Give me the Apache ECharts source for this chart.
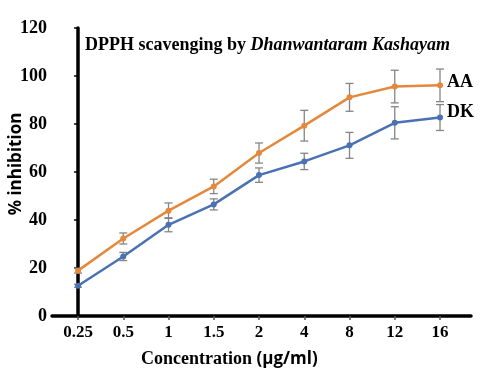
<!DOCTYPE html>
<html><head><meta charset="utf-8">
<script src="https://cdn.jsdelivr.net/npm/echarts@6/dist/echarts.min.js"></script>
<style>html,body{margin:0;padding:0;background:#fff}#c{width:482px;height:379px}</style>
</head><body><div id="c"></div>
<script>
const categories = ['0.25','0.5','1','1.5','2','4','8','12','16'];
const aaValues = [18.9, 32.3, 43.9, 54.0, 67.9, 79.3, 91.1, 95.6, 96.1];
const aaErrors = [1.0, 2.3, 3.2, 3.0, 4.2, 6.4, 5.8, 6.8, 6.8];
const dkValues = [12.6, 24.8, 38.0, 46.5, 58.7, 64.4, 71.1, 80.5, 82.7];
const dkErrors = [0.6, 1.7, 2.9, 2.3, 3.0, 3.4, 5.4, 6.7, 5.4];
const yTicks = [0, 20, 40, 60, 80, 100, 120];

const chart = echarts.init(document.getElementById('c'));
const serif = '"Liberation Serif","Times New Roman",serif';
const sans = '"Open Sans","Liberation Sans",sans-serif';
const orange = '#E4883C';
const blue = '#4A72B2';
const idx = categories.map((c, i) => i);

function errSeries(vals, errs) {
  return {
    type: 'custom',
    z: 1,
    data: vals.map((v, i) => [i, v - errs[i], v + errs[i]]),
    renderItem: function (params, api) {
      const lo = api.coord([api.value(0), api.value(1)]);
      const hi = api.coord([api.value(0), api.value(2)]);
      const w = 4;
      const st = { stroke: '#858585', lineWidth: 1.3 };
      return { type: 'group', children: [
        { type: 'line', shape: { x1: lo[0], y1: lo[1], x2: hi[0], y2: hi[1] }, style: st },
        { type: 'line', shape: { x1: lo[0]-w, y1: lo[1], x2: lo[0]+w, y2: lo[1] }, style: st },
        { type: 'line', shape: { x1: hi[0]-w, y1: hi[1], x2: hi[0]+w, y2: hi[1] }, style: st }
      ]};
    }
  };
}

chart.setOption({
  animation: false,
  backgroundColor: '#fff',
  title: {
    text: '{n|DPPH scavenging by }{i|Dhanwantaram Kashayam}',
    left: 80, top: 31,
    textStyle: { rich: {
      n: { fontFamily: serif, fontWeight: 'bold', fontSize: 18, color: '#000' },
      i: { fontFamily: serif, fontWeight: 'bold', fontStyle: 'italic', fontSize: 18, color: '#000' }
    }}
  },
  grid: { left: 52, right: 11, top: 28, bottom: 63, outerBoundsMode: 'none', containLabel: false },
  xAxis: {
    type: 'value',
    min: -0.575, max: 8.685,
    splitLine: { show: false },
    axisLine: { lineStyle: { color: '#000', width: 3.5 } },
    axisTick: { customValues: idx, length: 4, lineStyle: { color: '#555', width: 1.5 } },
    axisLabel: { customValues: idx, formatter: v => categories[Math.round(v)],
      fontFamily: serif, fontWeight: 'bold', fontSize: 17, color: '#000', margin: 8 }
  },
  yAxis: {
    type: 'value', min: 0, max: 120, interval: 20,
    splitLine: { show: false },
    axisLine: { show: true, lineStyle: { color: '#000', width: 3.5 } },
    axisTick: { show: true, length: 4, lineStyle: { color: '#000', width: 1.5 } },
    axisLabel: { fontFamily: serif, fontWeight: 'bold', fontSize: 18, color: '#000', margin: 5,
      formatter: v => yTicks.includes(v) ? String(v) : '' }
  },
  graphic: [{
    type: 'text', left: 141, top: 350,
    style: { text: '{a|Concentration }{b|(μg/ml)}', rich: {
      a: { fontFamily: serif, fontWeight: 'bold', fontSize: 18, fill: '#000' },
      b: { fontFamily: sans, fontWeight: 'bold', fontSize: 17, fill: '#000' }
    }}
  }, {
    type: 'text', x: 16, y: 164, rotation: Math.PI / 2,
    style: { text: '% inhibition', fontFamily: sans, fontWeight: 'bold', fontSize: 17, fill: '#000',
      align: 'center', verticalAlign: 'middle' }
  }],
  series: [
    errSeries(aaValues, aaErrors),
    errSeries(dkValues, dkErrors),
    { type: 'line', data: aaValues.map((v, i) => [i, v]), z: 3, symbol: 'circle', symbolSize: 6,
      lineStyle: { color: orange, width: 2.5 }, itemStyle: { color: orange },
      endLabel: { show: true, formatter: 'AA', distance: 7, fontFamily: serif, fontWeight: 'bold', fontSize: 18, color: '#000', offset: [0, -3] } },
    { type: 'line', data: dkValues.map((v, i) => [i, v]), z: 3, symbol: 'circle', symbolSize: 6,
      lineStyle: { color: blue, width: 2.5 }, itemStyle: { color: blue },
      endLabel: { show: true, formatter: 'DK', distance: 7, fontFamily: serif, fontWeight: 'bold', fontSize: 18, color: '#000', offset: [0, -5] } }
  ]
});
</script></body></html>
